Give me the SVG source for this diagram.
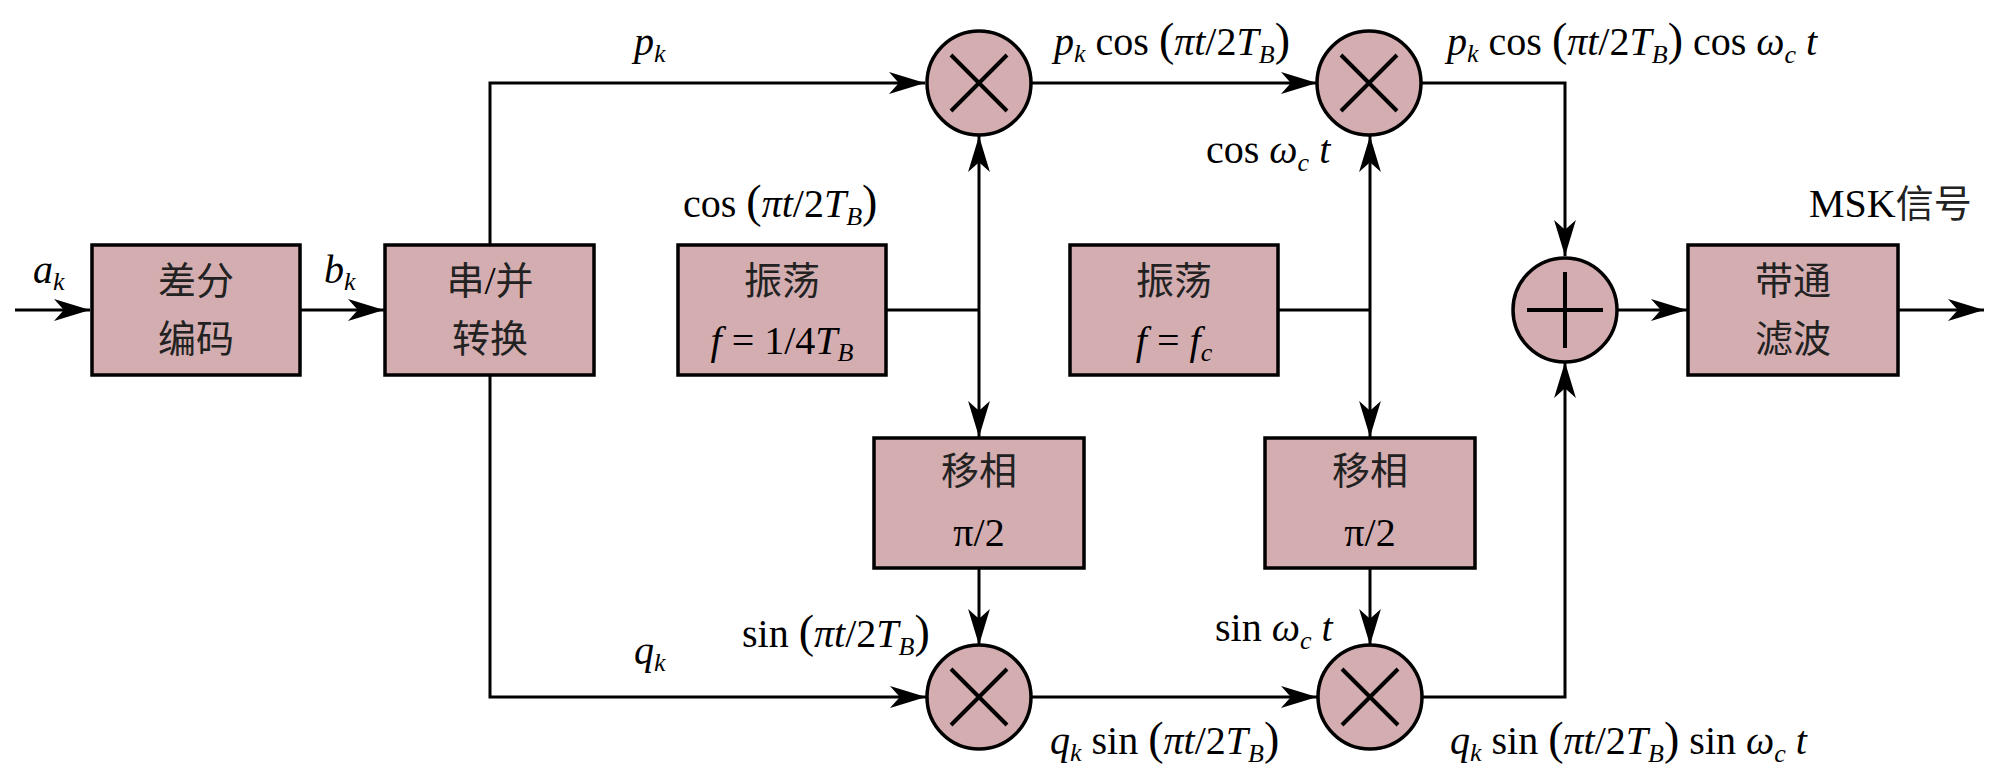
<svg xmlns="http://www.w3.org/2000/svg" width="2000" height="784" viewBox="0 0 2000 784">
<style>
.box{fill:#D4ADB0;stroke:#000;stroke-width:3.5}
.op{fill:#D4ADB0;stroke:#000;stroke-width:3.5}
.sym{stroke:#000;stroke-width:4;fill:none}
.ln{fill:none;stroke:#000;stroke-width:3}
.arr{marker-end:url(#ah)}
.t{font-family:'Liberation Serif','Times New Roman',serif;font-size:40px;fill:#000}
.i{font-style:italic}
.s{font-size:26px}
.p{font-size:46px}
.c{font-family:'Noto Sans CJK SC','Noto Sans CJK JP',sans-serif;font-size:38px;fill:#222}
.m{text-anchor:middle}
</style>
<defs>
<marker id="ah" markerUnits="userSpaceOnUse" markerWidth="40" markerHeight="24" viewBox="-34 -11 35 22" refX="0" refY="0" orient="auto">
<path d="M0,0 L-33,-10 L-24,0 L-33,10 Z" fill="#000"/>
</marker>
</defs>
<rect width="2000" height="784" fill="#fff"/>
<g id="connectors">
<path class="ln arr" d="M15,310 H90"/>
<path class="ln arr" d="M300,310 H384"/>
<path class="ln arr" d="M490,245 V83 H925"/>
<path class="ln arr" d="M490,375 V697 H926"/>
<path class="ln arr" d="M1031,83 H1317"/>
<path class="ln arr" d="M1421,83 H1565 V256"/>
<path class="ln arr" d="M1031,697 H1317"/>
<path class="ln arr" d="M1422,697 H1565 V362"/>
<path class="ln" d="M886,310 H979"/>
<path class="ln arr" d="M979,310 V136"/>
<path class="ln arr" d="M979,310 V437"/>
<path class="ln arr" d="M979,568 V645"/>
<path class="ln" d="M1278,310 H1370"/>
<path class="ln arr" d="M1370,310 V136"/>
<path class="ln arr" d="M1370,310 V437"/>
<path class="ln arr" d="M1370,568 V645"/>
<path class="ln arr" d="M1618,310 H1687"/>
<path class="ln arr" d="M1898,310 H1984"/>
</g>
<g id="diff">
<rect class="box" x="92" y="245" width="208" height="130"/>
<text class="c m" x="196" y="294">差分</text>
<text class="c m" x="196" y="352">编码</text>
</g>
<g id="sp">
<rect class="box" x="385" y="245" width="209" height="130"/>
<text class="c m" x="490" y="294">串<tspan class="t" font-size="40">/</tspan>并</text>
<text class="c m" x="490" y="352">转换</text>
</g>
<g id="osc1">
<rect class="box" x="678" y="245" width="208" height="130"/>
<text class="c m" x="782" y="294">振荡</text>
<text class="t m" x="782" y="354"><tspan class="i">f</tspan><tspan dx="10">=</tspan><tspan dx="10">1/4</tspan><tspan class="i">T</tspan><tspan class="i s" dy="7">B</tspan></text>
</g>
<g id="osc2">
<rect class="box" x="1070" y="245" width="208" height="130"/>
<text class="c m" x="1174" y="294">振荡</text>
<text class="t m" x="1174" y="354"><tspan class="i">f</tspan><tspan dx="10">=</tspan><tspan class="i" dx="10">f</tspan><tspan class="i s" dy="7">c</tspan></text>
</g>
<g id="ps1">
<rect class="box" x="874" y="438" width="210" height="130"/>
<text class="c m" x="979" y="484">移相</text>
<text class="t m" x="979" y="546">π/2</text>
</g>
<g id="ps2">
<rect class="box" x="1265" y="438" width="210" height="130"/>
<text class="c m" x="1370" y="484">移相</text>
<text class="t m" x="1370" y="546">π/2</text>
</g>
<g id="bpf">
<rect class="box" x="1688" y="245" width="210" height="130"/>
<text class="c m" x="1793" y="294">带通</text>
<text class="c m" x="1793" y="352">滤波</text>
</g>
<g id="mul1">
<circle class="op" cx="979" cy="83" r="52"/>
<path class="sym" d="M951,55 L1007,111 M1007,55 L951,111"/>
</g>
<g id="mul2">
<circle class="op" cx="1369" cy="83" r="52"/>
<path class="sym" d="M1341,55 L1397,111 M1397,55 L1341,111"/>
</g>
<g id="mul3">
<circle class="op" cx="979" cy="697" r="52"/>
<path class="sym" d="M951,669 L1007,725 M1007,669 L951,725"/>
</g>
<g id="mul4">
<circle class="op" cx="1370" cy="697" r="52"/>
<path class="sym" d="M1342,669 L1398,725 M1398,669 L1342,725"/>
</g>
<g id="sum">
<circle class="op" cx="1565" cy="310" r="52"/>
<path class="sym" d="M1527,310 H1603 M1565,272 V348"/>
</g>
<g id="labels">
<text class="t" x="33" y="283"><tspan class="i">a</tspan><tspan class="i s" dy="7">k</tspan></text>
<text class="t" x="324" y="283"><tspan class="i">b</tspan><tspan class="i s" dy="7">k</tspan></text>
<text class="t" x="634" y="55"><tspan class="i">p</tspan><tspan class="i s" dy="7">k</tspan></text>
<text class="t" x="634" y="664"><tspan class="i">q</tspan><tspan class="i s" dy="7">k</tspan></text>
<text class="t" x="1054" y="55"><tspan class="i">p</tspan><tspan class="i s" dy="7">k</tspan><tspan dy="-7"> cos </tspan><tspan class="p">(</tspan><tspan class="i">πt</tspan>/2<tspan class="i">T</tspan><tspan class="i s" dy="8">B</tspan><tspan class="p" dy="-8">)</tspan></text>
<text class="t" x="1447" y="55"><tspan class="i">p</tspan><tspan class="i s" dy="7">k</tspan><tspan dy="-7"> cos </tspan><tspan class="p">(</tspan><tspan class="i">πt</tspan>/2<tspan class="i">T</tspan><tspan class="i s" dy="8">B</tspan><tspan class="p" dy="-8">)</tspan><tspan> cos </tspan><tspan class="i">ω</tspan><tspan class="i s" dy="8">c</tspan><tspan class="i" dy="-8"> t</tspan></text>
<text class="t" x="1206" y="163">cos <tspan class="i">ω</tspan><tspan class="i s" dy="8">c</tspan><tspan class="i" dy="-8"> t</tspan></text>
<text class="t" x="683" y="217">cos <tspan class="p">(</tspan><tspan class="i">πt</tspan>/2<tspan class="i">T</tspan><tspan class="i s" dy="8">B</tspan><tspan class="p" dy="-8">)</tspan></text>
<text class="t" x="1809" y="217">MSK<tspan class="c" font-size="40">信号</tspan></text>
<text class="t" x="742" y="647">sin <tspan class="p">(</tspan><tspan class="i">πt</tspan>/2<tspan class="i">T</tspan><tspan class="i s" dy="8">B</tspan><tspan class="p" dy="-8">)</tspan></text>
<text class="t" x="1215" y="641">sin <tspan class="i">ω</tspan><tspan class="i s" dy="8">c</tspan><tspan class="i" dy="-8"> t</tspan></text>
<text class="t" x="1050" y="754"><tspan class="i">q</tspan><tspan class="i s" dy="7">k</tspan><tspan dy="-7"> sin </tspan><tspan class="p">(</tspan><tspan class="i">πt</tspan>/2<tspan class="i">T</tspan><tspan class="i s" dy="8">B</tspan><tspan class="p" dy="-8">)</tspan></text>
<text class="t" x="1450" y="754"><tspan class="i">q</tspan><tspan class="i s" dy="7">k</tspan><tspan dy="-7"> sin </tspan><tspan class="p">(</tspan><tspan class="i">πt</tspan>/2<tspan class="i">T</tspan><tspan class="i s" dy="8">B</tspan><tspan class="p" dy="-8">)</tspan><tspan> sin </tspan><tspan class="i">ω</tspan><tspan class="i s" dy="8">c</tspan><tspan class="i" dy="-8"> t</tspan></text>
</g>
</svg>
